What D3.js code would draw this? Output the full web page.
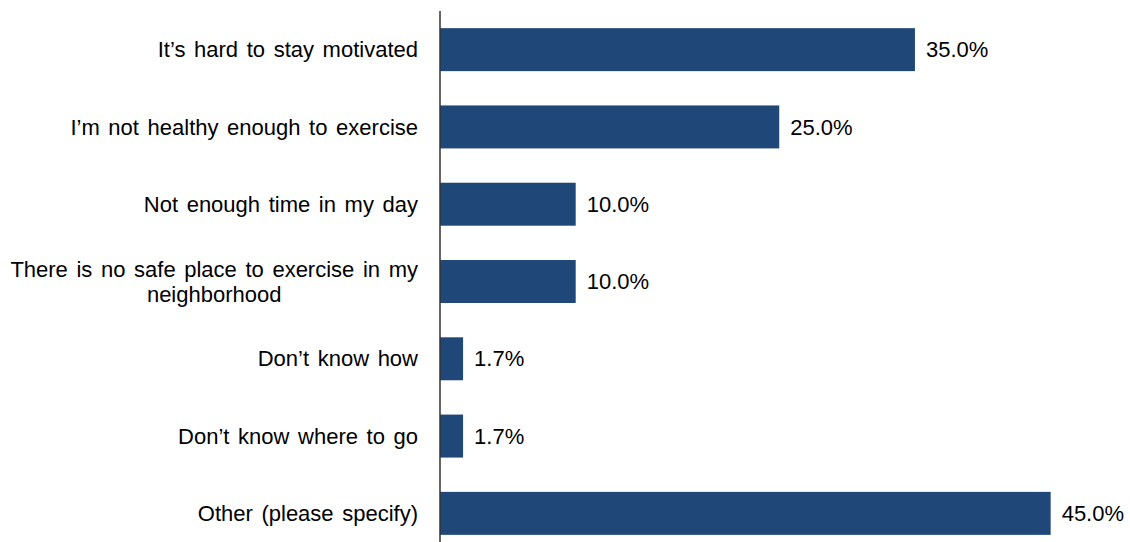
<!DOCTYPE html>
<html>
<head>
<meta charset="utf-8">
<script src="https://cdn.jsdelivr.net/npm/d3@7/dist/d3.min.js"></script>
<style>
html,body{margin:0;padding:0;background:#fff;}
svg{display:block;}
</style>
</head>
<body>
<svg id="chart" width="1130" height="542"></svg>
<script>
const categories = [
  "It’s hard to stay motivated",
  "I’m not healthy enough to exercise",
  "Not enough time in my day",
  "There is no safe place to exercise in my|neighborhood",
  "Don’t know how",
  "Don’t know where to go",
  "Other (please specify)"
];
const values = [35.0, 25.0, 10.0, 10.0, 1.7, 1.7, 45.0];
const valueLabels = ["35.0%", "25.0%", "10.0%", "10.0%", "1.7%", "1.7%", "45.0%"];

const svg = d3.select("#chart");
const x0 = 440;
const x = d3.scaleLinear().domain([0, 45]).range([x0, x0 + 45 * 13.57]);
const y = d3.scaleBand().domain(categories).range([11, 552]).paddingInner(0.444).paddingOuter(0.222);

const color = "#1f4777";
const font = "'Liberation Sans', Arial, sans-serif";

svg.append("g").selectAll("rect").data(categories).join("rect")
  .attr("x", x(0))
  .attr("y", d => y(d))
  .attr("width", (d, i) => x(values[i]) - x(0))
  .attr("height", y.bandwidth())
  .attr("fill", color);

// axis line
svg.append("line")
  .attr("x1", x0).attr("x2", x0)
  .attr("y1", 11).attr("y2", 542)
  .attr("stroke", "#333").attr("stroke-width", 1.5);

// value labels
svg.append("g").selectAll("text").data(categories).join("text")
  .attr("x", (d, i) => x(values[i]) + 11)
  .attr("y", d => y(d) + y.bandwidth() / 2)
  .attr("dy", "0.35em")
  .attr("font-family", font)
  .attr("font-size", 22)
  .attr("fill", "#000")
  .text((d, i) => valueLabels[i]);

// category labels
const labelRight = 418;
const lg = svg.append("g");
categories.forEach(c => {
  const lines = c.split("|");
  const cy = y(c) + y.bandwidth() / 2;
  const t = lg.append("text")
    .attr("font-family", font)
    .attr("font-size", 22)
    .attr("word-spacing", "2.5px")
    .attr("fill", "#000");
  if (lines.length === 1) {
    t.attr("x", labelRight).attr("y", cy).attr("dy", "0.35em")
      .attr("text-anchor", "end").text(lines[0]);
  } else {
    const lh = 25;
    const spans = lines.map((l, k) => t.append("tspan")
      .attr("y", cy + (k - (lines.length - 1) / 2) * lh)
      .attr("dy", "0.35em")
      .text(l));
    const maxW = d3.max(spans, s => s.node().getComputedTextLength());
    const cx = labelRight - maxW / 2;
    t.attr("text-anchor", "middle");
    spans.forEach(s => s.attr("x", cx));
  }
});
</script>
</body>
</html>
